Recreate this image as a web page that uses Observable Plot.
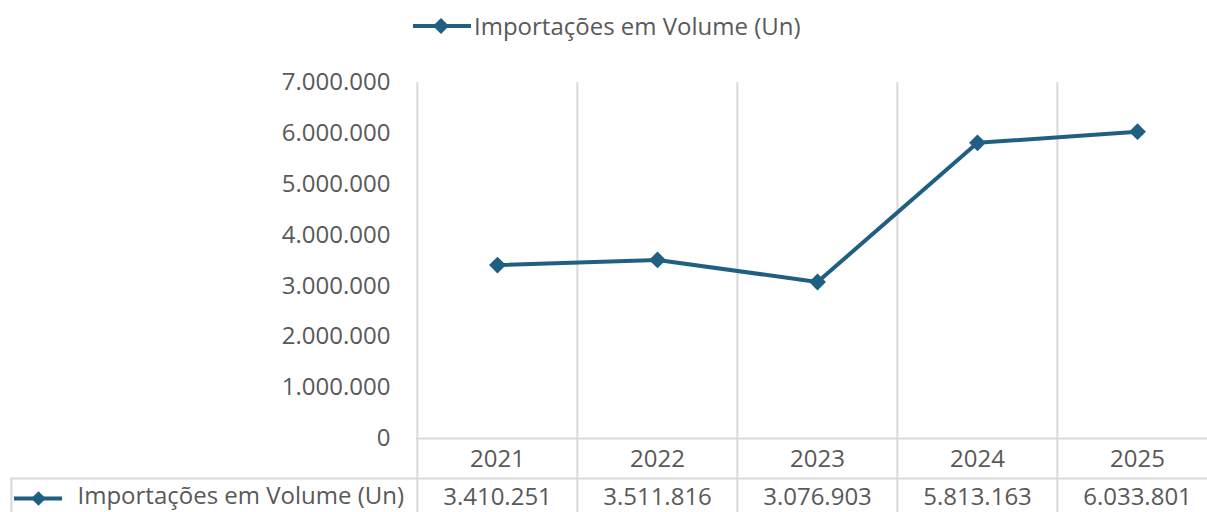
<!DOCTYPE html>
<html>
<head>
<meta charset="utf-8">
<script src="https://cdn.jsdelivr.net/npm/d3@7"></script>
<script src="https://cdn.jsdelivr.net/npm/@observablehq/plot@0.6"></script>
<style>
  html, body { margin: 0; padding: 0; background: #fff; }
  body { width: 1207px; height: 512px; overflow: hidden; font-family: "Open Sans", Lato, sans-serif; }
  #legend { position: relative; height: 55px; width: 1207px; }
  #legend .item { position: absolute; left: 413px; top: 10px; display: flex; align-items: center; color: #595959; font-size: 24px; line-height: 32px; }
  #legend .item svg { display: block; margin-right: 3px; }
  #chart svg { display: block; overflow: visible; }
</style>
</head>
<body>
<div id="legend"></div>
<div id="chart"></div>
<script>
const seriesName = "Importações em Volume (Un)";
const years = ["2021", "2022", "2023", "2024", "2025"];
const values = [3410251, 3511816, 3076903, 5813163, 6033801];
const yTicks = [0, 1000000, 2000000, 3000000, 4000000, 5000000, 6000000, 7000000];

const color = "#1F5F82";
const gridColor = "#D9D9D9";
const textColor = "#595959";

const fmt = d3.formatLocale({decimal: ",", thousands: ".", grouping: [3], currency: ["R$", ""]}).format(",d");
const data = years.map((y, i) => ({year: y, value: values[i]}));

// Top legend
const legend = document.getElementById("legend");
legend.innerHTML = `<div class="item"><svg width="58" height="20" viewBox="0 0 58 20">
  <line x1="0" y1="10" x2="58" y2="10" stroke="${color}" stroke-width="4"/>
  <path d="M28,2 L36,10 L28,18 L20,10 Z" fill="${color}"/>
</svg><span>${seriesName}</span></div>`;

const W = 1207, H = 457;
const mLeft = 416, mTop = 27, mBottom = 74;
const xRange = [416, 1217];
const bw = (xRange[1] - xRange[0]) / years.length;

const chart = Plot.plot({
  width: W,
  height: H,
  marginTop: mTop,
  marginBottom: mBottom,
  marginLeft: mLeft,
  marginRight: 0,
  x: {type: "band", domain: years, range: xRange, padding: 0, axis: null},
  y: {domain: [0, 7000000], axis: null},
  style: {fontFamily: "'Open Sans', Lato, sans-serif", fontSize: "24px", color: textColor, background: "#fff", overflow: "visible"},
  marks: [
    // vertical gridlines (category boundaries), running through the data table
    Plot.ruleX(years, {x: d => d, dx: -bw / 2, stroke: gridColor, strokeWidth: 2, insetBottom: -mBottom}),
    // horizontal axis line
    Plot.ruleY([0], {stroke: gridColor, strokeWidth: 2}),
    // table row separator
    Plot.ruleY([0], {dy: 40, insetLeft: -406, stroke: gridColor, strokeWidth: 2}),
    // table left border
    Plot.ruleX([years[0]], {x: d => d, dx: -bw / 2 - 406, stroke: gridColor, strokeWidth: 2, insetTop: 396, insetBottom: -mBottom}),
    // y tick labels
    Plot.text(yTicks, {y: d => d, text: d => fmt(d), frameAnchor: "left", textAnchor: "end", dx: -26, fill: textColor}),
    // series line + markers
    Plot.line(data, {x: "year", y: "value", stroke: color, strokeWidth: 4, strokeLinejoin: "round"}),
    Plot.dot(data, {x: "year", y: "value", symbol: "diamond2", r: 7.6, fill: color, stroke: "none"}),
    // data table: years row
    Plot.text(years, {x: d => d, text: d => d, frameAnchor: "bottom", dy: 28, fill: textColor}),
    // data table: values row
    Plot.text(data, {x: "year", text: d => fmt(d.value), frameAnchor: "bottom", dy: 66, fill: textColor}),
    // data table: legend key
    Plot.ruleY([0], {dy: 60, insetLeft: -402, insetRight: W - 62, stroke: color, strokeWidth: 4}),
    Plot.dot([0], {frameAnchor: "bottom-left", dx: -378, dy: 60, symbol: "diamond2", r: 6.6, fill: color, stroke: "none"}),
    Plot.text([seriesName], {frameAnchor: "bottom-left", dx: -339, dy: 65, textAnchor: "start", fill: textColor})
  ]
});
document.getElementById("chart").appendChild(chart);
</script>
</body>
</html>
